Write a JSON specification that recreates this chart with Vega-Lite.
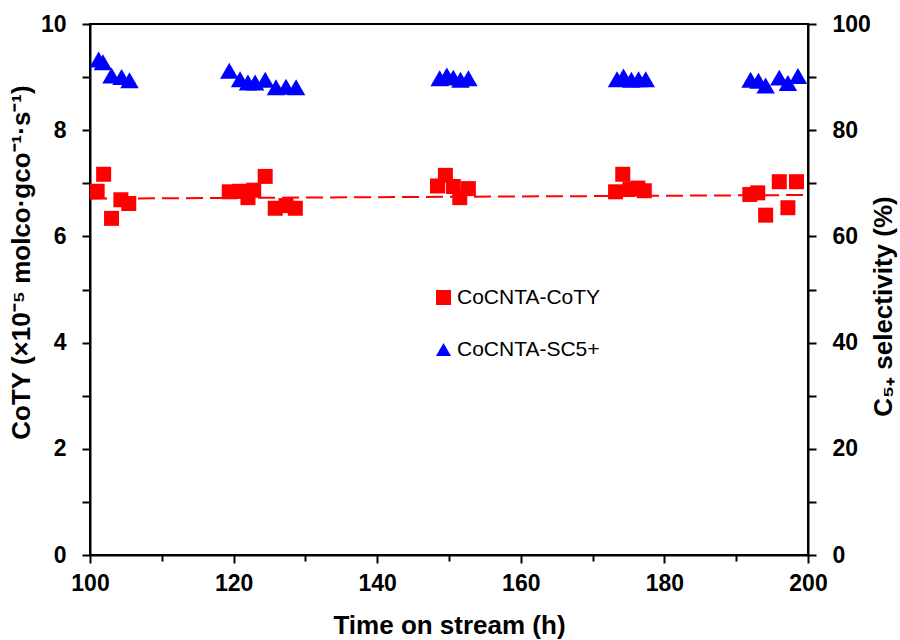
{
  "$schema": "https://vega.github.io/schema/vega-lite/v6.json",
  "width": 718,
  "height": 531,
  "autosize": {"type": "none"},
  "padding": {"left": 90, "top": 24, "right": 92, "bottom": 85},
  "background": "white",
  "config": {
    "view": {"stroke": "black", "strokeWidth": 2},
    "font": "Liberation Sans",
    "axis": {
      "domainColor": "black", "domainWidth": 2, "tickColor": "black", "tickWidth": 2,
      "labelColor": "black", "labelFont": "Liberation Sans", "labelFontSize": 23, "labelFontWeight": "bold",
      "titleColor": "black", "titleFont": "Liberation Sans", "titleFontSize": 26, "titleFontWeight": "bold",
      "grid": false, "labelFlush": false, "labelOverlap": false
    }
  },
  "datasets": {
    "trend": [
      {"time": 100, "coty": 6.71},
      {"time": 200, "coty": 6.78}
    ],
    "coty": [
      {"time": 101.0, "coty": 6.85, "series": "CoCNTA-CoTY"},
      {"time": 101.9, "coty": 7.17, "series": "CoCNTA-CoTY"},
      {"time": 103.0, "coty": 6.34, "series": "CoCNTA-CoTY"},
      {"time": 104.3, "coty": 6.69, "series": "CoCNTA-CoTY"},
      {"time": 105.4, "coty": 6.62, "series": "CoCNTA-CoTY"},
      {"time": 119.4, "coty": 6.84, "series": "CoCNTA-CoTY"},
      {"time": 120.8, "coty": 6.85, "series": "CoCNTA-CoTY"},
      {"time": 122.0, "coty": 6.73, "series": "CoCNTA-CoTY"},
      {"time": 122.8, "coty": 6.87, "series": "CoCNTA-CoTY"},
      {"time": 124.4, "coty": 7.13, "series": "CoCNTA-CoTY"},
      {"time": 125.8, "coty": 6.53, "series": "CoCNTA-CoTY"},
      {"time": 127.3, "coty": 6.58, "series": "CoCNTA-CoTY"},
      {"time": 128.6, "coty": 6.53, "series": "CoCNTA-CoTY"},
      {"time": 148.4, "coty": 6.95, "series": "CoCNTA-CoTY"},
      {"time": 149.5, "coty": 7.15, "series": "CoCNTA-CoTY"},
      {"time": 150.6, "coty": 6.94, "series": "CoCNTA-CoTY"},
      {"time": 151.5, "coty": 6.73, "series": "CoCNTA-CoTY"},
      {"time": 152.7, "coty": 6.90, "series": "CoCNTA-CoTY"},
      {"time": 173.2, "coty": 6.84, "series": "CoCNTA-CoTY"},
      {"time": 174.2, "coty": 7.17, "series": "CoCNTA-CoTY"},
      {"time": 175.2, "coty": 6.89, "series": "CoCNTA-CoTY"},
      {"time": 176.3, "coty": 6.91, "series": "CoCNTA-CoTY"},
      {"time": 177.2, "coty": 6.86, "series": "CoCNTA-CoTY"},
      {"time": 191.9, "coty": 6.79, "series": "CoCNTA-CoTY"},
      {"time": 193.0, "coty": 6.82, "series": "CoCNTA-CoTY"},
      {"time": 194.1, "coty": 6.40, "series": "CoCNTA-CoTY"},
      {"time": 196.0, "coty": 7.03, "series": "CoCNTA-CoTY"},
      {"time": 197.2, "coty": 6.54, "series": "CoCNTA-CoTY"},
      {"time": 198.4, "coty": 7.03, "series": "CoCNTA-CoTY"}
    ],
    "sc": [
      {"time": 101.2, "sel": 93.3, "series": "CoCNTA-SC5+"},
      {"time": 101.8, "sel": 92.8, "series": "CoCNTA-SC5+"},
      {"time": 103.0, "sel": 90.3, "series": "CoCNTA-SC5+"},
      {"time": 104.4, "sel": 90.0, "series": "CoCNTA-SC5+"},
      {"time": 105.5, "sel": 89.4, "series": "CoCNTA-SC5+"},
      {"time": 119.4, "sel": 91.2, "series": "CoCNTA-SC5+"},
      {"time": 120.9, "sel": 89.6, "series": "CoCNTA-SC5+"},
      {"time": 122.0, "sel": 89.0, "series": "CoCNTA-SC5+"},
      {"time": 123.0, "sel": 89.0, "series": "CoCNTA-SC5+"},
      {"time": 124.4, "sel": 89.5, "series": "CoCNTA-SC5+"},
      {"time": 125.9, "sel": 88.1, "series": "CoCNTA-SC5+"},
      {"time": 127.3, "sel": 88.2, "series": "CoCNTA-SC5+"},
      {"time": 128.7, "sel": 88.1, "series": "CoCNTA-SC5+"},
      {"time": 148.7, "sel": 89.8, "series": "CoCNTA-SC5+"},
      {"time": 149.7, "sel": 90.3, "series": "CoCNTA-SC5+"},
      {"time": 150.6, "sel": 89.9, "series": "CoCNTA-SC5+"},
      {"time": 151.6, "sel": 89.5, "series": "CoCNTA-SC5+"},
      {"time": 152.7, "sel": 89.8, "series": "CoCNTA-SC5+"},
      {"time": 173.4, "sel": 89.6, "series": "CoCNTA-SC5+"},
      {"time": 174.3, "sel": 90.1, "series": "CoCNTA-SC5+"},
      {"time": 175.4, "sel": 89.5, "series": "CoCNTA-SC5+"},
      {"time": 176.4, "sel": 89.6, "series": "CoCNTA-SC5+"},
      {"time": 177.4, "sel": 89.6, "series": "CoCNTA-SC5+"},
      {"time": 192.0, "sel": 89.5, "series": "CoCNTA-SC5+"},
      {"time": 193.1, "sel": 89.3, "series": "CoCNTA-SC5+"},
      {"time": 194.1, "sel": 88.4, "series": "CoCNTA-SC5+"},
      {"time": 196.0, "sel": 89.9, "series": "CoCNTA-SC5+"},
      {"time": 197.2, "sel": 88.9, "series": "CoCNTA-SC5+"},
      {"time": 198.6, "sel": 90.2, "series": "CoCNTA-SC5+"}
    ]
  },
  "encoding": {
    "x": {
      "field": "time", "type": "quantitative",
      "scale": {"domain": [100, 200], "nice": false, "zero": false},
      "axis": {
        "title": "Time on stream (h)",
        "values": [100, 110, 120, 130, 140, 150, 160, 170, 180, 190, 200],
        "labelExpr": "datum.value % 20 === 0 ? datum.label : ''",
        "tickSize": {"condition": {"test": "datum.value % 20 === 0", "value": 8}, "value": 6},
        "labelPadding": 9,
        "titlePadding": 17
      }
    }
  },
  "layer": [
    {
      "data": {"name": "trend"},
      "mark": {"type": "line", "color": "#FF0000", "strokeWidth": 2, "strokeDash": [17, 7]},
      "encoding": {
        "y": {"field": "coty", "type": "quantitative", "scale": {"domain": [0, 10], "nice": false}, "axis": null}
      }
    },
    {
      "data": {"name": "coty"},
      "mark": {"type": "point", "filled": true, "opacity": 1, "size": 225},
      "encoding": {
        "y": {
          "field": "coty", "type": "quantitative", "scale": {"domain": [0, 10], "nice": false},
          "axis": {
            "orient": "left",
            "title": "CoTY (×10⁻⁵ molco·gco⁻¹·s⁻¹)",
            "values": [0, 1, 2, 3, 4, 5, 6, 7, 8, 9, 10],
            "labelExpr": "datum.value % 2 === 0 ? datum.label : ''",
            "tickSize": 8,
            "labelPadding": 16,
            "titlePadding": 6,
            "titleY": 238
          }
        },
        "color": {
          "field": "series", "type": "nominal",
          "scale": {"domain": ["CoCNTA-CoTY", "CoCNTA-SC5+"], "range": ["#FF0000", "#0000FF"]},
          "legend": {
            "orient": "none", "legendX": 343, "legendY": 263, "title": null,
            "labelFontSize": 21, "labelFont": "Liberation Sans", "labelColor": "black",
            "symbolSize": 225, "rowPadding": 30, "labelOffset": 3, "symbolOpacity": 1, "padding": 0
          }
        },
        "shape": {
          "field": "series", "type": "nominal",
          "scale": {"domain": ["CoCNTA-CoTY", "CoCNTA-SC5+"], "range": ["square", "triangle-up"]}
        }
      }
    },
    {
      "data": {"name": "sc"},
      "mark": {"type": "point", "filled": true, "opacity": 1, "size": 340},
      "encoding": {
        "y": {
          "field": "sel", "type": "quantitative", "scale": {"domain": [0, 100], "nice": false},
          "axis": {
            "orient": "right",
            "title": "C₅₊ selectivity (%)",
            "titleAngle": 270,
            "values": [0, 10, 20, 30, 40, 50, 60, 70, 80, 90, 100],
            "labelExpr": "datum.value % 20 === 0 ? datum.label : ''",
            "tickSize": 8,
            "labelPadding": 16,
            "titlePadding": 26,
            "titleY": 282
          }
        },
        "color": {"field": "series", "type": "nominal"},
        "shape": {"field": "series", "type": "nominal"}
      }
    }
  ],
  "resolve": {"scale": {"y": "independent"}}
}
